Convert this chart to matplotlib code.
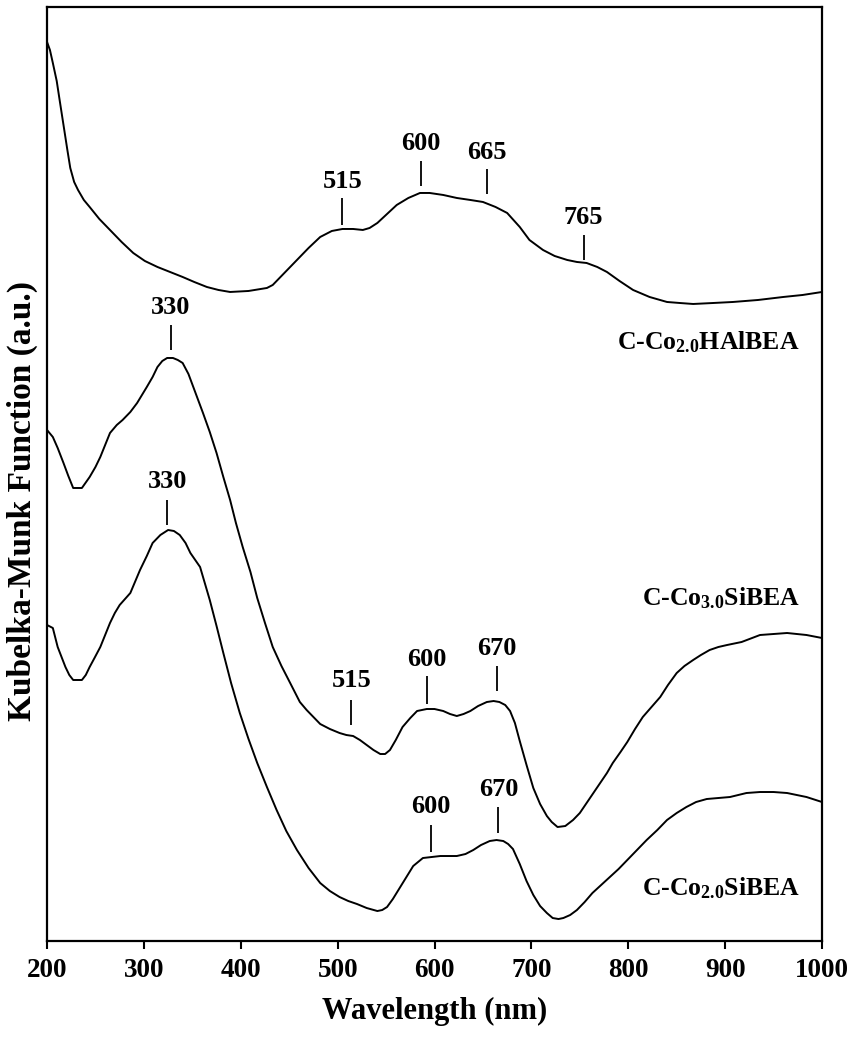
import matplotlib
matplotlib.use("Agg")
import matplotlib.pyplot as plt

plt.rcParams["font.family"] = ["Liberation Serif", "DejaVu Serif"]
plt.rcParams["font.weight"] = "bold"
plt.rcParams["mathtext.fontset"] = "custom"
plt.rcParams["mathtext.rm"] = "Liberation Serif:bold"
plt.rcParams["mathtext.bf"] = "Liberation Serif:bold"
plt.rcParams["mathtext.default"] = "rm"

# C-Co2.0HAlBEA
wl_hal = [200, 203, 206, 210, 213, 217, 221, 224, 228, 232, 238, 244, 254, 265,
          277, 289, 301, 314, 327, 340, 352, 365, 377, 389, 408, 427, 433, 445,
          458, 470, 482, 494, 505, 516, 526, 533, 541, 551, 561, 573, 585, 595,
          609, 623, 637, 650, 663, 675, 688, 698, 712, 724, 737, 747, 757, 768,
          778, 791, 805, 822, 840, 853, 867, 888, 908, 934, 960, 980, 1000]
km_hal = [899, 891, 878, 860, 841, 816, 791, 773, 759, 751, 741, 734, 722, 711,
          699, 688, 680, 674, 669, 664, 659, 654, 651, 649, 650, 653, 656, 668,
          681, 693, 704, 710, 712, 712, 711, 713, 718, 727, 736, 743, 748, 748,
          746, 743, 741, 739, 734, 728, 714, 701, 691, 685, 681, 679, 678, 674,
          669, 660, 651, 644, 639, 638, 637, 638, 639, 641, 644, 646, 649]

# C-Co3.0SiBEA
wl_si3 = [200, 206, 211, 217, 222, 227, 236, 244, 250, 255, 260, 265, 272, 278,
          286, 293, 303, 309, 314, 319, 324, 330, 335, 340, 346, 351, 361, 368,
          375, 382, 389, 395, 402, 410, 417, 425, 433, 442, 451, 461, 468, 475,
          482, 492, 502, 509, 516, 523, 530, 537, 544, 549, 554, 560, 567, 575,
          582, 592, 600, 609, 616, 623, 630, 637, 645, 654, 661, 667, 673, 678,
          683, 688, 695, 702, 709, 716, 721, 727, 735, 743, 750, 757, 764, 771,
          778, 784, 792, 799, 807, 815, 824, 833, 841, 850, 858, 867, 875, 884,
          893, 902, 917, 936, 950, 964, 984, 1000]
km_si3 = [511, 504, 493, 478, 465, 453, 453, 464, 474, 484, 496, 508, 516, 521,
          529, 538, 554, 564, 574, 580, 583, 583, 581, 578, 567, 554, 528, 509,
          488, 464, 441, 418, 394, 369, 343, 318, 294, 275, 258, 239, 231, 224,
          217, 212, 208, 206, 205, 201, 196, 191, 187, 187, 191, 201, 214, 223,
          230, 232, 232, 230, 227, 225, 227, 230, 235, 239, 240, 239, 236, 230,
          218, 200, 176, 153, 137, 125, 119, 114, 115, 121, 128, 138, 148, 158,
          168, 178, 189, 199, 212, 224, 234, 244, 256, 268, 275, 281, 286, 291,
          294, 296, 299, 306, 307, 308, 306, 303]

# C-Co2.0SiBEA
wl_si2 = [200, 206, 211, 215, 219, 223, 227, 236, 240, 244, 249, 255, 260, 265,
          270, 275, 286, 296, 303, 309, 317, 325, 331, 337, 343, 348, 358, 368,
          375, 382, 390, 399, 408, 417, 427, 437, 447, 458, 470, 482, 492, 502,
          511, 520, 530, 541, 546, 551, 557, 564, 571, 578, 588, 597, 606, 614,
          623, 632, 640, 648, 657, 664, 671, 676, 681, 688, 695, 702, 709, 716,
          722, 728, 733, 740, 747, 755, 763, 772, 781, 790, 799, 809, 819, 830,
          840, 850, 860, 870, 881, 893, 905, 922, 936, 950, 964, 984, 1000]
km_si2 = [316, 313, 294, 284, 274, 266, 261, 261, 266, 274, 283, 294, 306, 318,
          328, 336, 348, 371, 385, 398, 406, 411, 410, 406, 398, 388, 374, 341,
          315, 288, 258, 228, 202, 178, 154, 131, 110, 91, 73, 58, 50, 44,
          40, 37, 33, 30, 31, 34, 42, 53, 64, 75, 83, 84, 85, 85, 85, 87,
          91, 96, 100, 101, 100, 97, 92, 77, 60, 46, 35, 28, 23, 22, 23, 26,
          31, 39, 48, 56, 64, 72, 81, 91, 101, 111, 121, 128, 134, 139, 142, 143,
          144, 148, 149, 149, 148, 144, 139]

# peak marks: label, position (nm), line bottom, line top, label height
peak_text = ["515", "600", "665", "765",
             "330", "515", "600", "670",
             "330", "600", "670"]
peak_nm = [505, 586, 654, 754,
           328, 514, 592, 664,
           324, 596, 666]
peak_lo = [716, 755, 747, 681,
           591, 216, 237, 250,
           416, 89, 108]
peak_hi = [743, 780, 772, 706,
           616, 241, 265, 275,
           441, 116, 134]
peak_lab = [748, 786, 777, 712,
            622, 249, 270, 281,
            448, 123, 140]

sample_names = [r"C-Co$_{2.0}$HAlBEA", r"C-Co$_{3.0}$SiBEA", r"C-Co$_{2.0}$SiBEA"]
sample_y = [599, 343, 53]

fig = plt.figure(figsize=(8.55, 10.39), dpi=100)
ax = fig.add_axes([0.055, 0.0943, 0.9064, 0.899])

for wl, km in [(wl_hal, km_hal), (wl_si3, km_si3), (wl_si2, km_si2)]:
    ax.plot(wl, km, color="black", lw=1.4)

ax.vlines(peak_nm, peak_lo, peak_hi, color="black", lw=1.3)
for t, x, y in zip(peak_text, peak_nm, peak_lab):
    ax.text(x, y, t, ha="center", va="bottom", fontsize=19, fontweight="bold")

for name, y in zip(sample_names, sample_y):
    ax.text(977, y, name, ha="right", va="center", fontsize=18.5, fontweight="bold")

ax.set_xlim(200, 1000)
ax.set_ylim(0, 934)
ax.set_xticks(range(200, 1001, 100))
ax.set_yticks([])
ax.tick_params(axis="x", direction="out", length=6, width=1.5, labelsize=19.5, pad=6)
for lab in ax.get_xticklabels():
    lab.set_fontweight("bold")
for s in ax.spines.values():
    s.set_linewidth(1.6)

ax.set_xlabel("Wavelength (nm)", fontsize=22, fontweight="bold", labelpad=10)
ax.set_ylabel("Kubelka-Munk Function (a.u.)", fontsize=24, fontweight="bold")
ax.yaxis.set_label_coords(-0.012, 0.471)

fig.savefig("out.png", dpi=100)
